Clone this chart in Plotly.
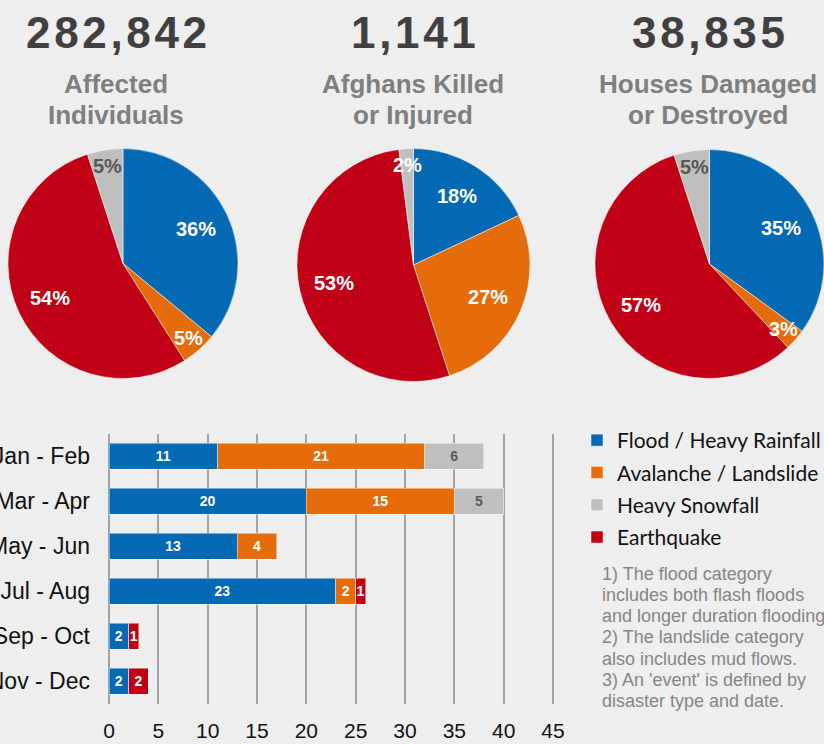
import math
import plotly.graph_objects as go

# ---------------- data ----------------
headline_numbers = ["282,842", "1,141", "38,835"]
headline_titles = [["Affected", "Individuals"], ["Afghans Killed", "or Injured"], ["Houses Damaged", "or Destroyed"]]

pie_labels = ["Flood / Heavy Rainfall", "Avalanche / Landslide", "Earthquake", "Heavy Snowfall"]
pie_affected = [36, 5, 54, 5]
pie_killed = [18, 27, 53, 2]
pie_houses = [35, 3, 57, 5]

periods = ["Jan - Feb", "Mar - Apr", "May - Jun", "Jul - Aug", "Sep - Oct", "Nov - Dec"]
flood = [11, 20, 13, 23, 2, 2]
avalanche = [21, 15, 4, 2, None, None]
snowfall = [6, 5, None, None, None, None]
earthquake = [None, None, None, 1, 1, 2]

x_ticks = [0, 5, 10, 15, 20, 25, 30, 35, 40, 45]

notes = [
    "1) The flood category",
    "includes both flash floods",
    "and longer duration flooding",
    "2) The landslide category",
    "also includes mud flows.",
    "3) An 'event' is defined by",
    "disaster type and date.",
]

# ---------------- styles ----------------
W, H = 824, 744
BG = "#eeeeee"
BLUE, ORANGE, GREY, RED = "#0569b4", "#e46c0a", "#bfbfbf", "#c00014"
pie_colors = [BLUE, ORANGE, RED, GREY]
pie_text_colors = [["white", "white", "white", "#595959"],
                   ["white", "white", "white", "white"],
                   ["white", "white", "white", "#595959"]]

fig = go.Figure()
annotations = []

# pie boxes in pixels (left, right, top, bottom)
pie_domains = [
    (8, 238, 148.5, 378.5),
    (297, 530, 148.5, 381.5),
    (595, 824, 149, 379),
]
pie_values = [pie_affected, pie_killed, pie_houses]
for i, (vals, dom) in enumerate(zip(pie_values, pie_domains)):
    x0, x1, y0, y1 = dom
    fig.add_trace(go.Pie(
        labels=pie_labels, values=vals, sort=False, direction="clockwise", rotation=0,
        marker=dict(colors=pie_colors, line=dict(color="rgba(255,255,255,0.5)", width=1)),
        textinfo="none",
        domain=dict(x=[x0 / W, x1 / W], y=[1 - y1 / H, 1 - y0 / H]),
        showlegend=False, hoverinfo="label+percent",
    ))
    # percentage labels placed along each slice's bisector (derived from the values)
    cx, cy = (x0 + x1) / 2, (y0 + y1) / 2
    R = min(x1 - x0, y1 - y0) / 2
    total = float(sum(vals))
    cum = 0.0
    for v, tc in zip(vals, pie_text_colors[i]):
        mid = (cum + v / 2) / total * 2 * math.pi
        cum += v
        rf = 0.7 if v >= 10 else 0.86
        px = cx + rf * R * math.sin(mid)
        py = cy - rf * R * math.cos(mid)
        annotations.append(dict(
            x=px / W, y=1 - py / H, xref="paper", yref="paper", xanchor="center", yanchor="middle",
            text=f"{v}%", showarrow=False,
            font=dict(family="Liberation Sans", size=20, color=tc, weight="bold"),
        ))

bar_series = [
    ("Flood / Heavy Rainfall", flood, BLUE, "white"),
    ("Avalanche / Landslide", avalanche, ORANGE, "white"),
    ("Heavy Snowfall", snowfall, GREY, "#595959"),
    ("Earthquake", earthquake, RED, "white"),
]
for name, vals, col, tcol in bar_series:
    fig.add_trace(go.Bar(
        y=periods, x=vals, name=name, orientation="h",
        marker=dict(color=col, line=dict(color="rgba(255,255,255,0.45)", width=1)),
        texttemplate="%{x}", textposition="inside", insidetextanchor="middle",
        textangle=0, constraintext="none",
        textfont=dict(family="Liberation Sans", size=14, color=tcol, weight="bold"),
        legendgroup=name, xaxis="x", yaxis="y",
    ))

px_per_unit = (553 - 109) / 45
x_left, x_right = 109, 567
y_top, y_bot = 433.8, 703.8

fig.update_layout(
    width=W, height=H,
    margin=dict(l=0, r=0, t=0, b=0, autoexpand=False),
    paper_bgcolor=BG, plot_bgcolor=BG,
    barmode="stack", bargap=0.42,
    font=dict(family="Liberation Sans", color="#222222"),
    xaxis=dict(
        domain=[x_left / W, x_right / W], range=[0, (x_right - x_left) / px_per_unit],
        tickvals=x_ticks, showgrid=True, gridcolor="#a3a3a3", gridwidth=2,
        zeroline=True, zerolinecolor="#a3a3a3", zerolinewidth=2, showline=False,
        tickfont=dict(size=21, color="#111111"), ticks="", ticklabelstandoff=12,
        anchor="y", fixedrange=True,
    ),
    yaxis=dict(
        domain=[1 - y_bot / H, 1 - y_top / H], categoryorder="array", categoryarray=periods,
        range=[len(periods) - 0.5, -0.5], showgrid=False, zeroline=False, showline=False,
        tickfont=dict(size=23, color="#111111"), ticks="", ticklabelstandoff=18,
        automargin=False, anchor="x", fixedrange=True,
    ),
    legend=dict(
        x=577 / W, xanchor="left", y=1 - 420 / H, yanchor="top",
        font=dict(family="Lato", size=21, color="#111111"),
        bgcolor="rgba(0,0,0,0)", traceorder="grouped", tracegroupgap=2,
        itemclick=False, itemdoubleclick=False,
    ),
    showlegend=True,
)

centers = [116, 413, 708]
for cx, num, lines in zip(centers, headline_numbers, headline_titles):
    annotations.append(dict(
        x=cx / W, y=1 - 33 / H, xref="paper", yref="paper", xanchor="center", yanchor="middle",
        text="\u200a".join(num), showarrow=False,
        font=dict(family="Liberation Sans", size=44, color="#404040", weight="bold"),
    ))
    for j, line in enumerate(lines):
        annotations.append(dict(
            x=cx / W, y=1 - (84 + 31 * j) / H, xref="paper", yref="paper",
            xanchor="center", yanchor="middle", text=line, showarrow=False,
            font=dict(family="Liberation Sans", size=26, color="#7f7f7f", weight="bold"),
        ))
for k, line in enumerate(notes):
    annotations.append(dict(
        x=600 / W, y=1 - (573.5 + 21.25 * k) / H, xref="paper", yref="paper",
        xanchor="left", yanchor="middle", text=line, showarrow=False,
        font=dict(family="Liberation Sans", size=18, color="#858585"),
    ))
fig.update_layout(annotations=annotations)

fig.write_html(
    "out.html",
    config={"displayModeBar": False},
    post_script="document.body.style.margin='0px';document.body.style.backgroundColor='#eeeeee';document.body.style.overflow='hidden';",
)
